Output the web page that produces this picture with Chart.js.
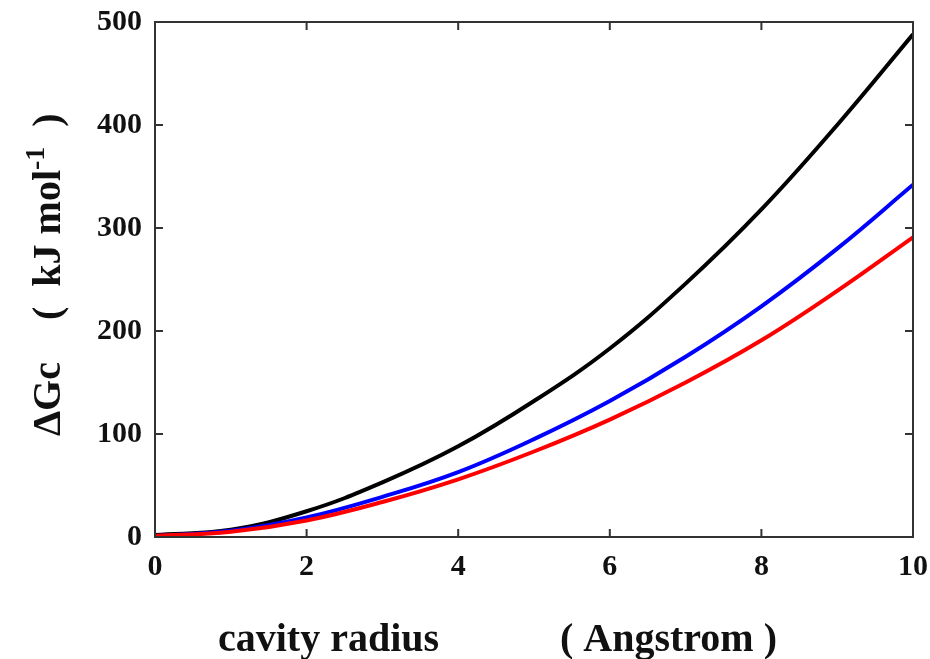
<!DOCTYPE html>
<html>
<head>
<meta charset="utf-8">
<script src="https://cdn.jsdelivr.net/npm/chart.js@4"></script>
<style>
  body { margin: 0; background: #fff; }
  #wrap { width: 930px; height: 659px; }
</style>
</head>
<body>
<div id="wrap"><canvas id="cavityChart" width="930" height="659"></canvas></div>
<script>
// cavity radius (Angstrom) and ΔGc (kJ/mol)
const radius = [0, 1, 2, 3, 4, 5, 6, 7, 8, 9, 10];
const blackValues = [2, 7, 25, 53, 88, 132, 183, 246, 318, 400, 488];
const blueValues = [1, 6, 19, 39, 63, 95, 132, 175, 224, 280, 342];
const redValues = [1, 5, 16, 34, 56, 83, 114, 150, 191, 239, 291];

const xTicks = [0, 2, 4, 6, 8, 10];
const yTicks = [0, 100, 200, 300, 400, 500];

const serif = '"Liberation Serif", "Times New Roman", serif';

function toPoints(values) {
  return radius.map((r, i) => ({ x: r, y: values[i] }));
}

// Frame, inward ticks on all four sides and the axis titles
const framePlugin = {
  id: 'frame',
  afterDatasetsDraw(chart) {
    const { ctx, chartArea, scales } = chart;
    const { left, right, top, bottom } = chartArea;
    const tick = 8;
    ctx.save();
    ctx.strokeStyle = '#333';
    ctx.lineWidth = 2;
    ctx.strokeRect(left, top, right - left, bottom - top);
    ctx.beginPath();
    xTicks.forEach(v => {
      const px = scales.x.getPixelForValue(v);
      ctx.moveTo(px, bottom); ctx.lineTo(px, bottom - tick);
      ctx.moveTo(px, top); ctx.lineTo(px, top + tick);
    });
    yTicks.forEach(v => {
      const py = scales.y.getPixelForValue(v);
      ctx.moveTo(left, py); ctx.lineTo(left + tick, py);
      ctx.moveTo(right, py); ctx.lineTo(right - tick, py);
    });
    ctx.stroke();
    ctx.restore();
  },
  afterDraw(chart) {
    const { ctx } = chart;
    ctx.save();
    ctx.fillStyle = '#111';
    ctx.textBaseline = 'alphabetic';
    ctx.textAlign = 'left';

    // x title
    ctx.font = 'bold 40px ' + serif;
    ctx.fillText('cavity radius', 218, 651);
    ctx.fillText('( Angstrom )', 560, 651);

    // y title, rotated
    ctx.translate(60, 436);
    ctx.rotate(-Math.PI / 2);
    ctx.font = 'bold 40px ' + serif;
    ctx.fillText('ΔGc', 0, 0);
    let pos = 116;
    const main = '(  kJ mol';
    ctx.fillText(main, pos, 0);
    pos += ctx.measureText(main).width;
    ctx.font = 'bold 28px ' + serif;
    ctx.fillText('-1', pos, -16);
    pos += ctx.measureText('-1').width;
    ctx.font = 'bold 40px ' + serif;
    ctx.fillText('  )', pos, 0);
    ctx.restore();
  }
};

function noLabelPadding(scale) {
  scale.paddingLeft = 0;
  scale.paddingRight = 0;
  scale.paddingTop = 0;
  scale.paddingBottom = 0;
}

const ctx = document.getElementById('cavityChart').getContext('2d');
const cavityChart = new Chart(ctx, {
  type: 'line',
  data: {
    datasets: [
      { label: 'black', data: toPoints(blackValues), borderColor: '#000000', order: 3 },
      { label: 'blue', data: toPoints(blueValues), borderColor: '#0000ff', order: 2 },
      { label: 'red', data: toPoints(redValues), borderColor: '#ff0000', order: 1 },
    ],
  },
  options: {
    responsive: false,
    animation: false,
    events: [],
    layout: { padding: { top: 22, right: 17, left: 0, bottom: 0 } },
    elements: {
      point: { radius: 0 },
      line: { borderWidth: 4, tension: 0.4, fill: false },
    },
    plugins: {
      legend: { display: false },
      tooltip: { enabled: false },
    },
    scales: {
      x: {
        type: 'linear',
        min: 0,
        max: 10,
        grid: { display: false, drawTicks: false },
        border: { display: false },
        ticks: {
          stepSize: 2,
          padding: 12,
          color: '#111',
          maxRotation: 0,
          font: { family: serif, size: 30, weight: 'bold' },
        },
        afterFit: scale => { scale.height = 122; noLabelPadding(scale); },
      },
      y: {
        min: 0,
        max: 500,
        grid: { display: false, drawTicks: false },
        border: { display: false },
        ticks: {
          stepSize: 100,
          padding: 13,
          color: '#111',
          font: { family: serif, size: 30, weight: 'bold' },
        },
        afterFit: scale => { scale.width = 155; noLabelPadding(scale); },
      },
    },
  },
  plugins: [framePlugin],
});
</script>
</body>
</html>
